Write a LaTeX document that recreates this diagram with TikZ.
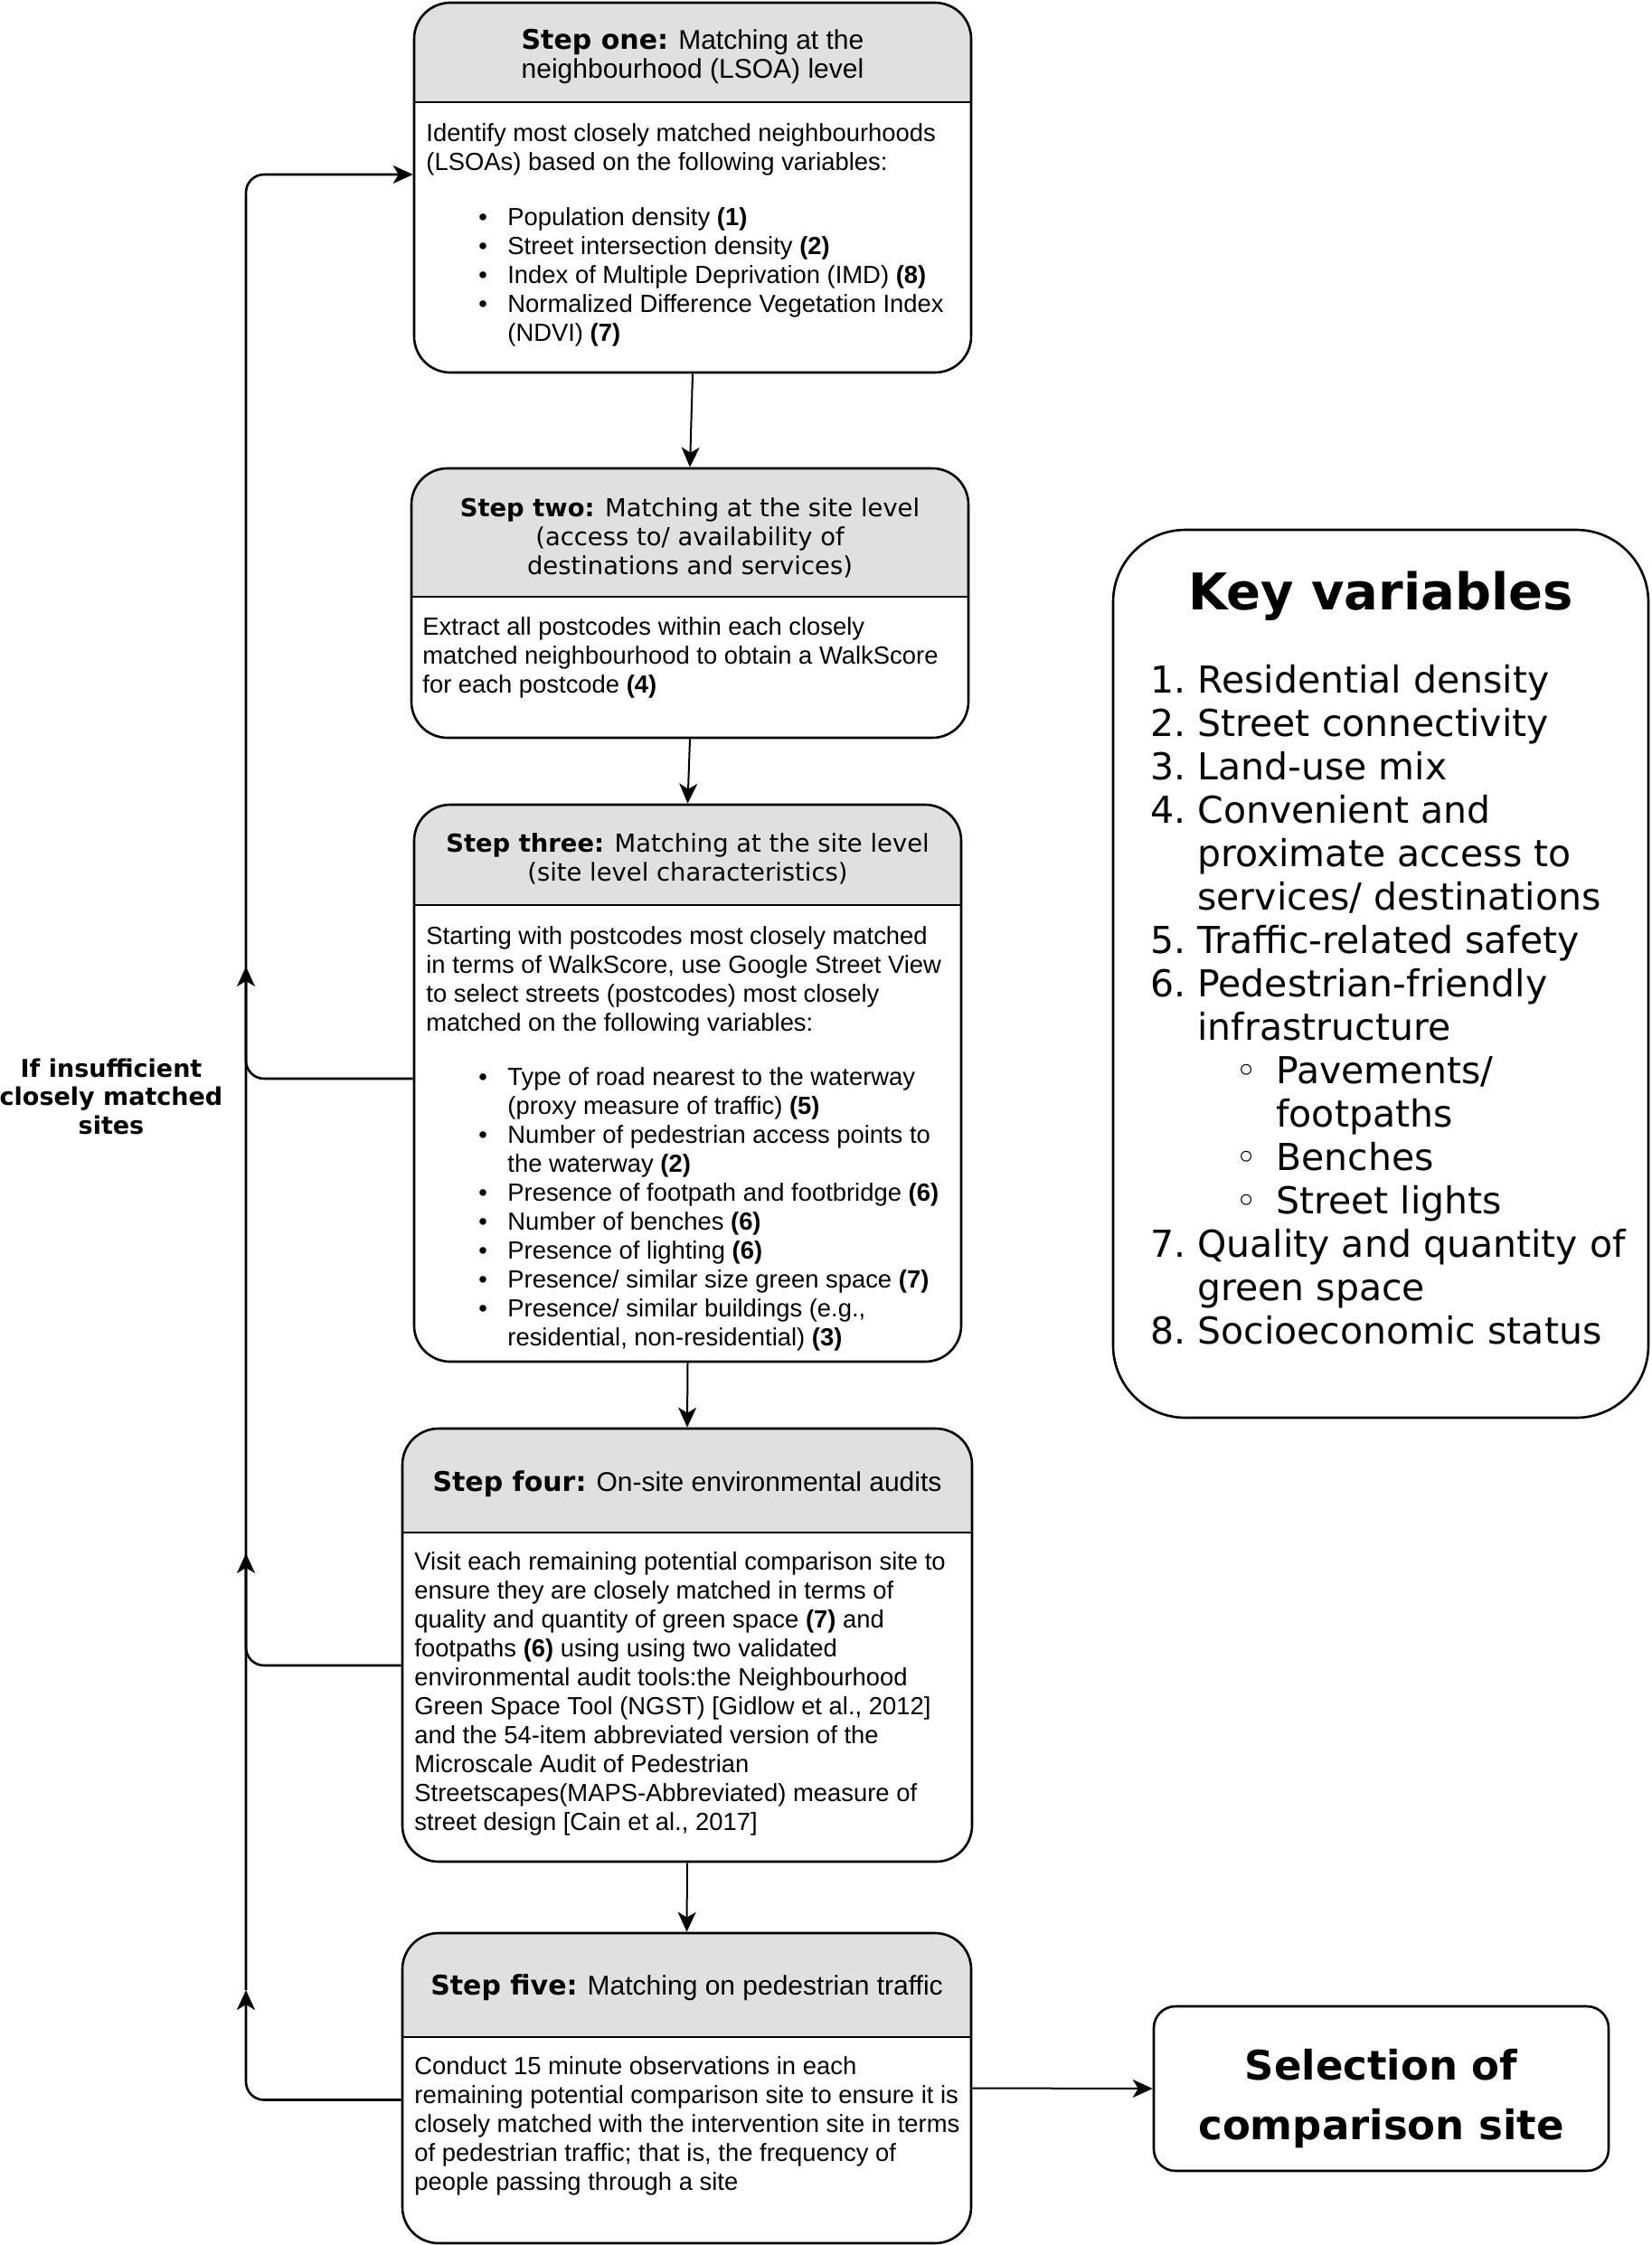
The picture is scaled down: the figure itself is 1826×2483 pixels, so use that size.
\documentclass[tikz,border=0pt]{standalone}
\usepackage{fontspec}
\setmainfont{Liberation Sans}
\newfontfamily\vfont{DejaVu Sans}
\usetikzlibrary{arrows.meta,fit}
\definecolor{hdr}{RGB}{224,224,224}
\newcommand\bodyfont{\fontsize{13.7}{16}\selectfont}
\newcommand\hdrfont{\fontsize{15}{16}\selectfont}
\newcommand\stepb[1]{{\vfont\bfseries #1}}
\newcommand\bul{\makebox[45pt][l]{\hspace*{29pt}\textbullet}}
\newcommand\ind{\hspace*{45pt}}
\newcommand\kn[1]{\makebox[26pt][l]{#1}}
\newcommand\kind{\hspace*{26pt}}
\newcommand\ksub{\hspace*{47pt}\makebox[22.5pt][l]{◦}}
\newcommand\ksind{\hspace*{69.5pt}}
\newcommand\mkbox[6]{%
  \begin{scope}
    \clip[rounded corners=20pt] (#2,#3) rectangle (#4,#5);
    \fill[hdr] (#2,#3) rectangle (#4,#6);
  \end{scope}
  \node[box, fit={(#2,#3) (#4,#5)}] (#1) {};
  \draw[line width=1.3pt] (#2,#6) -- (#4,#6);
}
\begin{document}
\begin{tikzpicture}[x=0.5pt,y=-0.5pt,
  box/.style={draw, line width=1.3pt, rounded corners=20pt, inner sep=0pt},
  tipA/.tip={Stealth[length=11pt,width=10pt,inset=3pt]},
  conn/.style={line width=1pt, -tipA},
  fb/.style={line width=1.3pt, rounded corners=10pt, -tipA},
  hdrtext/.style={font=\hdrfont, align=center, inner sep=0pt, anchor=north},
  bodytext/.style={font=\bodyfont, align=left, inner sep=0pt, anchor=north west}]
\useasboundingbox (0,0) rectangle (1826,2483);
\fill[white] (0,0) rectangle (1826,2483);

% step boxes
\mkbox{b1}{458}{3}{1074}{412}{113}
\mkbox{b2}{455}{518}{1071}{816}{660}
\mkbox{b3}{458}{890}{1063}{1506}{1001}
\mkbox{b4}{445}{1580}{1075}{2059}{1695}
\mkbox{b5}{445}{2138}{1074}{2481}{2253}

% headers
\node[hdrtext] (h1) at (766,31.6) {\strut\stepb{Step one:} Matching at the\\neighbourhood (LSOA) level};
\node[hdrtext, font=\bodyfont\vfont] (h2) at (763,548.6) {\strut\textbf{Step two:} Matching at the site level\\(access to/ availability of\\destinations and services)};
\node[hdrtext, font=\bodyfont\vfont] (h3) at (760.5,919.6) {\strut\textbf{Step three:} Matching at the site level\\(site level characteristics)};
\node[hdrtext] (h4) at (760,1626.6) {\strut\stepb{Step four:} On-site environmental audits};
\node[hdrtext] (h5) at (759.5,2183.6) {\strut\stepb{Step five:} Matching on pedestrian traffic};

% bodies
\node[bodytext] (t1) at (471,133.6) {\strut Identify most closely matched neighbourhoods\\(LSOAs) based on the following variables:\\[14.5pt]
\bul Population density \textbf{(1)}\\
\bul Street intersection density \textbf{(2)}\\
\bul Index of Multiple Deprivation (IMD) \textbf{(8)}\\
\bul Normalized Difference Vegetation Index\\
\ind (NDVI) \textbf{(7)}};

\node[bodytext] (t2) at (467,679.6) {\strut Extract all postcodes within each closely\\matched neighbourhood to obtain a WalkScore\\for each postcode \textbf{(4)}};

\node[bodytext] (t3) at (471,1021.6) {\strut Starting with postcodes most closely matched\\in terms of WalkScore, use Google Street View\\to select streets (postcodes) most closely\\matched on the following variables:\\[14pt]
\bul Type of road nearest to the waterway\\
\ind (proxy measure of traffic) \textbf{(5)}\\
\bul Number of pedestrian access points to\\
\ind the waterway \textbf{(2)}\\
\bul Presence of footpath and footbridge \textbf{(6)}\\
\bul Number of benches \textbf{(6)}\\
\bul Presence of lighting \textbf{(6)}\\
\bul Presence/ similar size green space \textbf{(7)}\\
\bul Presence/ similar buildings (e.g.,\\
\ind residential, non-residential) \textbf{(3)}};

\node[bodytext] (t4) at (458,1713.6) {\strut Visit each remaining potential comparison site to\\ensure they are closely matched in terms of\\quality and quantity of green space \textbf{(7)} and\\footpaths \textbf{(6)} using using two validated\\environmental audit tools:the Neighbourhood\\Green Space Tool (NGST) [Gidlow et al., 2012]\\and the 54-item abbreviated version of the\\Microscale Audit of Pedestrian\\Streetscapes(MAPS-Abbreviated) measure of\\street design [Cain et al., 2017]};

\node[bodytext] (t5) at (458,2271.6) {\strut Conduct 15 minute observations in each\\remaining potential comparison site to ensure it is\\closely matched with the intervention site in terms\\of pedestrian traffic; that is, the frequency of\\people passing through a site};

% key variables
\node[draw, line width=1.3pt, rounded corners=40pt, inner sep=0pt, fit={(1231,586) (1823,1568)}] (kv) {};
\node[anchor=base, inner sep=0pt, font=\vfont\bfseries\fontsize{28}{33}\selectfont] (kvt) at (1527,674) {Key variables};
\node[anchor=north west, inner sep=0pt, align=left, font=\vfont\fontsize{20.5}{24}\selectfont] (kvl) at (1272,732) {\strut\kn{1.}Residential density\\
\kn{2.}Street connectivity\\
\kn{3.}Land-use mix\\
\kn{4.}Convenient and\\
\kind proximate access to\\
\kind services/ destinations\\
\kn{5.}Traffic-related safety\\
\kn{6.}Pedestrian-friendly\\
\kind infrastructure\\
\ksub Pavements/\\
\ksind footpaths\\
\ksub Benches\\
\ksub Street lights\\
\kn{7.}Quality and quantity of\\
\kind green space\\
\kn{8.}Socioeconomic status};

% selection box
\node[draw, line width=1.3pt, rounded corners=12pt, inner sep=0pt, fit={(1276,2219) (1779,2401)}] (sel) {};
\node[anchor=north, inner sep=0pt, align=center, font=\vfont\bfseries\fontsize{22.5}{33}\selectfont] (selt) at (1527.5,2254) {\strut Selection of\\comparison site};

% feedback label
\node[anchor=north, inner sep=0pt, align=center, font=\vfont\bfseries\fontsize{13.5}{15.75}\selectfont] (fbl) at (123,1169) {\strut If insufficient\\closely matched\\sites};

% main flow
\draw[conn] (b1.south) -- (b2.north);
\draw[conn] (b2.south) -- (b3.north);
\draw[conn] (b3.south) -- (b4.north);
\draw[conn] (b4.south) -- (b5.north);
\draw[conn] (b5.east) -- (sel.west);

% feedback loop
\coordinate (m3) at (272,1069);
\coordinate (m4) at (272,1718);
\coordinate (m5) at (272,2201);
\draw[fb] ([yshift=-6.5pt]b5.west) -| (m5);
\draw[fb] (m5) |- ([yshift=7.25pt]b1.west);
\draw[fb] ([yshift=-11.25pt]b4.west) -| (m4);
\draw[fb] ([yshift=2.5pt]b3.west) -| (m3);
\end{tikzpicture}
\end{document}
